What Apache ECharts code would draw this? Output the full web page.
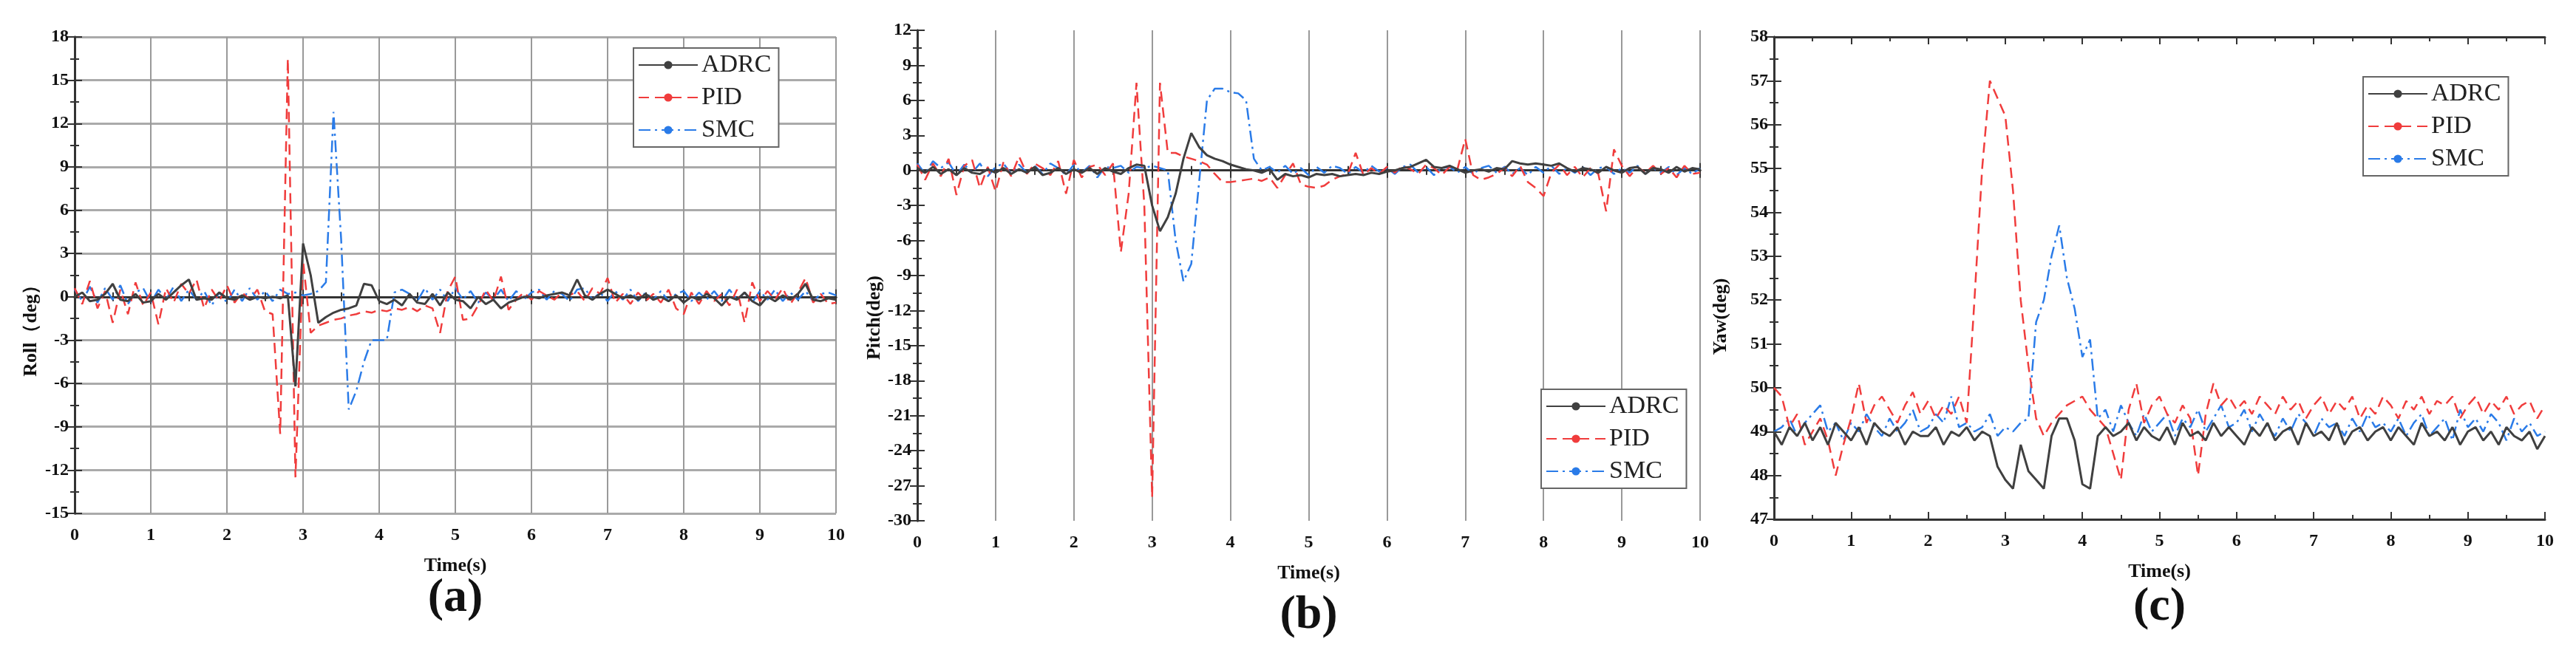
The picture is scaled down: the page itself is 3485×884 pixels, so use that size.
<!DOCTYPE html>
<html><head><meta charset="utf-8">
<script src="https://cdn.jsdelivr.net/npm/echarts@6/dist/echarts.min.js"></script>
<style>html,body{margin:0;padding:0;background:#fff}#c{width:3485px;height:884px}</style>
</head><body><div id="c"></div>
<script>
// time samples 0..10 s, step 0.1
const time = Array.from({length:101},(_,i)=>+(i*0.1).toFixed(1));
const seriesNames = ['ADRC','PID','SMC'];

const rollADRC = [
0,0.3,-0.3,-0.2,0.2,0.9,-0.2,-0.3,0.2,-0.4,
-0.3,0.2,-0.2,0.3,0.8,1.2,-0.2,-0.1,-0.2,0.3,
-0.1,-0.2,0.1,-0.2,0,-0.1,0,-0.1,0.1,-6.2,
3.7,1.5,-1.8,-1.4,-1.1,-0.9,-0.8,-0.6,0.9,0.8,
-0.3,-0.5,-0.2,-0.6,0.2,-0.4,-0.5,0.2,-0.6,0.3,
-0.2,-0.3,-0.8,0,-0.5,-0.2,-0.8,-0.4,-0.2,0,
0,-0.1,0.1,0.2,0.3,0.1,1.2,0.1,-0.2,0.2,
0.5,0.2,-0.1,0.1,-0.2,0.2,-0.2,0,-0.3,0.1,
-0.4,0,-0.2,0.2,-0.1,-0.6,0,-0.2,0.3,-0.3,
-0.6,0,-0.3,0.1,-0.2,0.2,0.9,-0.2,-0.3,-0.1,-0.2];
const rollPID = [
0.6,-0.5,1.1,-0.8,0.4,-1.8,0.5,-1.2,1.0,-0.6,
0.3,-1.9,0.6,-0.4,0.9,0.2,1.2,-0.8,0.5,-0.3,
0.8,-0.4,0.3,-0.2,0.5,-1.0,-1.2,-9.5,16.5,-12.5,
2.5,-2.5,-2.0,-1.8,-1.6,-1.5,-1.3,-1.2,-1.0,-1.1,
-0.9,-1.0,-0.8,-0.9,-0.7,-1.0,-0.6,-0.8,-2.5,0.4,
1.4,-1.6,-1.5,-0.6,0.5,-0.3,1.4,-0.9,-0.2,0.3,
-0.2,0.4,0.1,-0.2,0.3,0.1,0.4,-0.3,0.6,0.2,
1.3,-0.4,0.2,-0.5,0.3,-0.3,0.2,-0.4,0.5,-0.8,
-1.2,0.3,-0.5,0.4,-0.3,0.2,-0.6,0.5,-1.8,1.0,
-0.3,0.4,-0.2,0.6,-0.5,0.3,1.3,-0.4,0.2,-0.5,-0.4];
const rollSMC = [
0.5,-0.3,0.7,-0.4,0.6,-0.2,0.8,-0.5,0.3,0.6,
-0.4,0.5,-0.2,0.7,-0.3,0.5,-0.2,0.4,-0.6,0.3,
-0.4,0.5,-0.3,0.6,-0.2,0.4,-0.3,0.5,0.2,0.3,
0.1,0.2,0.4,1.0,12.8,4.0,-7.8,-6.5,-4.5,-3.0,
-3.0,-3.0,0.3,0.5,0.2,-0.3,0.6,-0.2,0.5,-0.3,
0.6,-0.2,0.4,-0.4,0.3,-0.2,0.5,-0.3,0.4,-0.2,
0.3,0.5,-0.2,0.4,0.2,-0.3,0.5,0.6,-0.2,0.3,
-0.3,0.4,-0.2,0.5,-0.3,0.3,-0.2,0.4,-0.3,0.2,
0.4,-0.3,0.3,-0.2,0.4,-0.3,0.5,-0.2,0.3,-0.4,
0.4,-0.2,0.5,-0.3,0.3,-0.2,0.4,-0.3,0.2,0.3,0.1];

const pitchADRC = [
0.2,-0.2,0.3,-0.3,0.1,-0.4,0.2,-0.2,-0.3,0.1,
-0.2,0.2,-0.3,0.1,-0.2,0.3,-0.4,-0.2,0.2,-0.3,
0.1,-0.2,0.2,-0.3,0.2,-0.1,-0.3,0.2,0.5,0.4,
-3.0,-5.2,-4.0,-2.0,1.0,3.2,2.0,1.3,1.0,0.8,
0.5,0.3,0.1,0,-0.2,0.1,-0.8,-0.3,-0.5,-0.4,
-0.6,-0.3,-0.4,-0.3,-0.5,-0.4,-0.3,-0.4,-0.2,-0.3,
-0.1,0,0.2,0.3,0.6,0.9,0.3,0.2,0.4,0.1,
-0.2,0,0.1,-0.1,0.2,0.1,0.8,0.6,0.5,0.6,
0.5,0.4,0.6,0.2,-0.1,0.2,0.1,-0.2,0.3,0,
-0.2,0.2,0.3,-0.3,0.2,0.1,-0.2,0.3,-0.1,0.2,0.1];
const pitchPID = [
0.5,-0.8,0.6,-0.5,1.0,-2.1,0.4,0.9,-1.5,0.3,
-1.8,0.7,-0.5,1.2,-0.3,0.6,0.2,-0.4,0.8,-2.0,
0.9,-0.6,0.3,0.5,-0.4,0.6,-7.0,-2.0,7.5,-3.0,
-28.0,7.5,1.5,1.5,1.2,1.0,0.8,0.5,-0.3,-1.0,
-1.0,-0.9,-0.8,-0.7,-0.9,-0.6,-1.5,-0.4,0.6,-1.2,
-1.4,-1.5,-1.3,-0.8,-0.5,-0.3,1.5,-0.4,0.2,-0.3,
0.3,-0.2,0.4,0.1,-0.3,0.5,0.2,-0.4,0.3,0.1,
2.7,-0.4,-0.8,-0.6,-0.3,0.2,-0.5,0.4,-1.0,-1.5,
-2.2,-0.2,0.5,-0.4,0.3,-0.6,0.2,-0.3,-3.5,1.8,
0.4,-0.5,0.3,-0.2,0.4,-0.3,0.2,-0.6,0.4,-0.3,-0.2];
const pitchSMC = [
0.6,-0.3,0.8,0.2,0.7,-0.4,0.5,-0.2,0.6,-0.5,
0.3,0.6,-0.3,0.5,-0.2,0.4,-0.3,0.6,0.2,-0.4,
0.5,-0.2,0.4,-0.6,0.3,0.2,0.4,-0.2,0.3,0.2,
0.4,0.2,0,-6.0,-9.5,-8.0,-1.0,6.0,7.0,7.0,
6.7,6.6,6.0,1.0,0,0.3,-0.2,0.4,-0.3,0.2,
-0.4,0.3,-0.2,0.4,0.2,-0.3,0.3,-0.2,0.4,-0.1,
0.2,-0.3,0.3,0.5,-0.2,0.3,-0.4,0.2,0.3,-0.2,
0.3,-0.3,0.2,0.4,-0.2,0.3,-0.3,0.2,-0.4,0.3,
-0.2,0.4,-0.3,0.2,-0.2,0.3,-0.4,0.2,0.3,-0.3,
0.2,-0.2,0.4,-0.3,0.2,-0.2,0.3,-0.4,0.2,-0.3,0.2];

const yawADRC = [
49.0,48.7,49.1,48.9,49.2,48.8,49.1,48.7,49.2,49.0,
48.8,49.1,48.7,49.2,49.0,48.9,49.1,48.7,49.0,48.9,
48.9,49.1,48.7,49.0,48.9,49.1,48.8,49.0,48.9,48.2,
47.9,47.7,48.7,48.1,47.9,47.7,48.9,49.3,49.3,48.8,
47.8,47.7,48.9,49.1,48.9,49.0,49.2,48.8,49.1,48.9,
48.8,49.1,48.7,49.2,48.9,49.0,48.8,49.2,48.9,49.1,
48.9,48.7,49.1,48.9,49.2,48.8,49.0,49.1,48.7,49.2,
48.9,49.0,48.8,49.2,48.7,49.0,49.1,48.8,49.0,49.1,
48.8,49.1,48.9,48.7,49.2,48.9,49.0,48.8,49.1,48.7,
49.0,49.1,48.8,49.0,48.7,49.1,48.9,48.8,49.0,48.6,48.9];
const yawPID = [
50.0,49.8,49.1,49.4,48.7,49.0,49.3,48.8,48.0,48.7,
49.3,50.1,49.2,49.6,49.8,49.5,49.2,49.6,49.9,49.4,
49.7,49.3,49.6,49.4,49.8,49.2,52.0,55.0,57.0,56.6,
56.2,54.5,52.0,50.5,49.3,48.9,49.2,49.4,49.6,49.7,
49.8,49.5,49.3,49.1,48.5,47.9,49.5,50.1,49.2,49.6,
49.8,49.4,49.2,49.6,49.3,48.0,49.4,50.1,49.6,49.8,
49.5,49.7,49.4,49.8,49.6,49.4,49.8,49.5,49.7,49.3,
49.6,49.8,49.4,49.7,49.5,49.8,49.3,49.6,49.4,49.8,
49.6,49.3,49.7,49.5,49.8,49.4,49.7,49.6,49.8,49.3,
49.6,49.8,49.4,49.7,49.5,49.8,49.4,49.6,49.7,49.3,49.6];
const yawSMC = [
49.0,49.1,49.3,48.9,49.2,49.4,49.6,49.0,49.2,48.8,
49.2,49.0,49.4,49.1,48.9,49.3,49.0,49.2,49.5,49.0,
49.1,49.4,49.2,49.8,49.1,49.2,49.0,49.1,49.4,48.9,
49.1,49.0,49.2,49.3,51.5,52.0,53.0,53.7,52.5,51.8,
50.7,51.1,49.3,49.5,49.0,49.6,49.2,48.9,49.4,49.0,
49.2,49.4,48.9,49.3,49.1,49.5,49.0,49.3,49.6,49.1,
49.2,49.5,49.0,49.4,49.1,48.9,49.3,49.0,49.4,49.2,
48.9,49.3,49.1,49.2,48.9,49.3,49.0,49.4,49.1,49.2,
49.0,49.3,48.9,49.2,49.4,48.9,49.1,49.3,48.8,49.5,
49.1,49.3,49.0,49.4,49.2,48.8,49.3,49.0,49.2,48.9,49.0];

const yTicks = {roll:[-15,18,3], pitch:[-30,12,3], yaw:[47,58,1]};

const chart = echarts.init(document.getElementById('c'));
const FONT = 'Liberation Serif';
const grids = [
  {left:101, top:50, width:1030, height:645},
  {left:1241, top:41, width:1059, height:664},
  {left:2400, top:50, width:1043, height:653}
];
const panels = [
  {name:'Roll（deg）', r:yTicks.roll, data:[rollADRC,rollPID,rollSMC], hgrid:true, vgrid:true, nameX:45, label:'(a)', labY:810, legend:{left:857, top:65}},
  {name:'Pitch(deg)', r:yTicks.pitch, data:[pitchADRC,pitchPID,pitchSMC], hgrid:false, vgrid:true, nameX:1186, label:'(b)', labY:833, legend:{left:2085, top:527}},
  {name:'Yaw(deg)', r:yTicks.yaw, data:[yawADRC,yawPID,yawSMC], hgrid:false, vgrid:false, nameX:2331, label:'(c)', labY:822, legend:{left:3197, top:104}}
];
const colors = ['#404040','#f03c3c','#2a7be8'];
const lineTypes = ['solid',[14,8],[16,6,3,6]];
const lab = {fontFamily:FONT, fontWeight:'bold', fontSize:24, color:'#111'};
const xAxis=[], yAxis=[], series=[], graphic=[], legend=[];
panels.forEach((p,i)=>{
  const g = grids[i];
  xAxis.push({gridIndex:i, type:'value', min:0, max:10, interval:1, position:'bottom',
    name:'Time(s)', nameLocation:'middle', nameGap:58, nameTextStyle:{...lab, fontSize:26},
    axisLine:{lineStyle:{color:'#333', width:3}}, axisTick:{inside:true, length:10, lineStyle:{color:'#333',width:2}},
    minorTick:{show:true, splitNumber:2, length:6, lineStyle:{color:'#333',width:2}},
    axisLabel:{...lab, margin:18},
    splitLine:{show:p.vgrid, lineStyle:{color:'#999', width:2}}});
  xAxis.push({gridIndex:i, type:'value', min:0, max:10, interval:1, position:'top',
    axisLine:{lineStyle:{color:'#333', width:3}}, axisTick:{inside:true, length:10, lineStyle:{color:'#333',width:2}},
    minorTick:{show:true, splitNumber:2, length:6, lineStyle:{color:'#333',width:2}},
    axisLabel:{show:false}, splitLine:{show:false}});
  yAxis.push({gridIndex:i, type:'value', min:p.r[0], max:p.r[1], interval:p.r[2], position:'left',
    axisLine:{lineStyle:{color:'#333', width:3}}, axisTick:{inside:true, length:10, lineStyle:{color:'#333',width:2}},
    minorTick:{show:true, splitNumber:2, length:6, lineStyle:{color:'#333',width:2}},
    axisLabel:{...lab, margin:8},
    splitLine:{show:p.hgrid, lineStyle:{color:'#aaa', width:3}}});
  yAxis.push({gridIndex:i, type:'value', min:p.r[0], max:p.r[1], interval:p.r[2], position:'right',
    axisLine:{lineStyle:{color:'#333', width:3}}, axisTick:{inside:true, length:10, lineStyle:{color:'#333',width:2}},
    minorTick:{show:true, splitNumber:2, length:6, lineStyle:{color:'#333',width:2}},
    axisLabel:{show:false}, splitLine:{show:false}});
  p.data.forEach((d,k)=>{
    series.push({name:seriesNames[k], type:'line', xAxisIndex:2*i, yAxisIndex:2*i, symbol:'none', z:6-k,
      data:time.map((t,j)=>[t,d[j]]), color:colors[k], itemStyle:{color:colors[k]},
      lineStyle:{color:colors[k], width:k===0?3:2.5, type:lineTypes[k]}});
  });
  graphic.push({type:'text', left:p.nameX-16, top:g.top+g.height/2, rotation:Math.PI/2,
    style:{text:p.name, fontFamily:FONT, fontWeight:'bold', fontSize:26, fill:'#111', textAlign:'center', textVerticalAlign:'middle'}});
  graphic.push({type:'text', x:g.left+g.width/2, y:p.labY, style:{text:p.label, fontFamily:FONT, fontWeight:'bold', fontSize:64, fill:'#111', textAlign:'center', textVerticalAlign:'middle'}});
  legend.push({left:p.legend.left, top:p.legend.top, orient:'vertical', data:seriesNames, itemWidth:80, itemHeight:14, itemGap:10,
    padding:[6,10,6,6], borderColor:'#666', borderWidth:2, backgroundColor:'#fff',
    textStyle:{fontFamily:FONT, fontSize:34, color:'#222'}, selectedMode:false, z:10});
});
chart.setOption({animation:false, grid:grids, xAxis, yAxis, series, graphic, legend});
</script></body></html>
